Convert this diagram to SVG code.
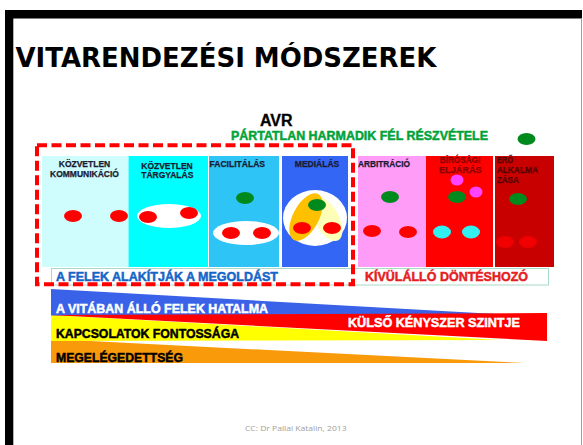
<svg xmlns="http://www.w3.org/2000/svg" width="583" height="445" viewBox="0 0 583 445">
<style>
.lbl{font-family:"Liberation Sans",Arial,sans-serif;font-weight:bold;font-size:8.5px;fill:#1a1a33;stroke:#1a1a33;stroke-width:0.25}
.big{font-family:"Liberation Sans",Arial,sans-serif;font-weight:bold;font-size:12px;stroke-width:0.45}
.red{fill:#ff0000}
.grn{fill:#008a1e}
.wht{fill:#ffffff}
</style>
<rect x="0" y="0" width="583" height="445" fill="#ffffff"/>
<g id="frame">
<rect x="5" y="10" width="577" height="8.5" fill="#000000"/>
<rect x="5" y="10" width="8.3" height="435" fill="#000000"/>
<line x1="581.5" y1="18" x2="581.5" y2="445" stroke="#a0a0a0" stroke-width="1"/>
</g>
<text id="title" x="15.5" y="67" font-family="'DejaVu Sans',Verdana,sans-serif" font-weight="bold" font-size="26" textLength="421" lengthAdjust="spacingAndGlyphs" fill="#000000">VITARENDEZÉSI MÓDSZEREK</text>
<text id="avr" x="260" y="126" font-family="'Liberation Sans',Arial,sans-serif" font-weight="bold" font-size="16" fill="#000000" stroke="#000000" stroke-width="0.3">AVR</text>
<text id="partatlan" x="231" y="140" class="big" font-size="11" textLength="257" lengthAdjust="spacingAndGlyphs" fill="#00a33a" stroke="#00a33a">PÁRTATLAN HARMADIK FÉL RÉSZVÉTELE</text>
<ellipse id="dot-top" cx="526.5" cy="139" rx="9" ry="6" class="grn"/>

<g id="col1">
<rect x="42" y="156" width="86" height="111" fill="#cffcfc"/>
<text class="lbl" x="84.5" y="166.7" text-anchor="middle">KÖZVETLEN</text>
<text class="lbl" x="84.5" y="176.7" text-anchor="middle">KOMMUNIKÁCIÓ</text>
<ellipse cx="73" cy="216" rx="9" ry="6" class="red"/>
<ellipse cx="119" cy="216" rx="9" ry="6" class="red"/>
</g>
<g id="col2">
<rect x="128.5" y="156" width="79.5" height="111" fill="#00ffff"/>
<text class="lbl" x="167" y="169" text-anchor="middle">KÖZVETLEN</text>
<text class="lbl" x="167.3" y="178.3" text-anchor="middle">TÁRGYALÁS</text>
<ellipse cx="169" cy="216" rx="32" ry="12" class="wht"/>
<ellipse cx="148" cy="217" rx="9" ry="6" class="red"/>
<ellipse cx="189" cy="213" rx="9" ry="6" class="red"/>
</g>
<g id="col3">
<rect x="209" y="156" width="70" height="111" fill="#2ec4f5"/>
<text class="lbl" x="209.5" y="167.3" textLength="55.5" lengthAdjust="spacingAndGlyphs">FACILITÁLÁS</text>
<ellipse cx="245" cy="198" rx="9" ry="6" class="grn"/>
<ellipse cx="246" cy="233" rx="33" ry="12" class="wht"/>
<ellipse cx="231" cy="233" rx="9" ry="6" class="red"/>
<ellipse cx="262" cy="233" rx="9" ry="6" class="red"/>
</g>
<g id="col4">
<rect x="282" y="156" width="66" height="111" fill="#3366f5"/>
<text class="lbl" x="317" y="167.3" text-anchor="middle">MEDIÁLÁS</text>
<ellipse cx="315" cy="218" rx="32" ry="28" class="wht"/>
<ellipse cx="327" cy="219" rx="12" ry="24" fill="#ffffb8" transform="rotate(-28 327 219)"/>
<ellipse cx="306" cy="217" rx="13" ry="26" fill="#ffc000" transform="rotate(28 306 217)"/>
<ellipse cx="317" cy="205" rx="9" ry="6" class="grn"/>
<ellipse cx="302" cy="228" rx="9" ry="6" class="red"/>
<ellipse cx="332" cy="228" rx="9" ry="6" class="red"/>
</g>
<g id="col5">
<rect x="358" y="156" width="68" height="111" fill="#ff9cf7"/>
<text class="lbl" x="358" y="167.3" textLength="52" lengthAdjust="spacingAndGlyphs">ARBITRÁCIÓ</text>
<ellipse cx="390" cy="197" rx="9" ry="6" class="grn"/>
<ellipse cx="372" cy="231" rx="9" ry="6" class="red"/>
<ellipse cx="408" cy="232" rx="9" ry="6" class="red"/>
</g>
<g id="col6">
<rect x="426" y="156" width="67" height="111" fill="#ff0000"/>
<text class="lbl" x="460" y="163.3" text-anchor="middle" style="fill:#8a0000;stroke:#8a0000" textLength="40.5" lengthAdjust="spacingAndGlyphs">BÍRÓSÁGI</text>
<text class="lbl" x="460.3" y="173.3" text-anchor="middle" style="fill:#8a0000;stroke:#8a0000" textLength="42.5" lengthAdjust="spacingAndGlyphs">ELJÁRÁS</text>
<ellipse cx="457" cy="180" rx="6.5" ry="5.5" fill="#ff44ff"/>
<ellipse cx="476" cy="192" rx="6.5" ry="5.5" fill="#ff44ff"/>
<ellipse cx="457" cy="197" rx="9" ry="6" class="grn"/>
<ellipse cx="442" cy="232" rx="9" ry="6.5" fill="#33f0f0"/>
<ellipse cx="471" cy="232" rx="9" ry="6.5" fill="#33f0f0"/>
</g>
<g id="col7">
<rect x="495" y="156" width="59" height="111" fill="#c80000"/>
<text class="lbl" x="496.7" y="163.3" style="fill:#550000;stroke:#550000" textLength="16.3" lengthAdjust="spacingAndGlyphs">ERŐ</text>
<text class="lbl" x="496.7" y="173.3" style="fill:#550000;stroke:#550000" textLength="41.3" lengthAdjust="spacingAndGlyphs">ALKALMA</text>
<text class="lbl" x="496.7" y="182.7" style="fill:#550000;stroke:#550000" textLength="22.3" lengthAdjust="spacingAndGlyphs">ZÁSA</text>
<ellipse cx="518" cy="199" rx="9" ry="6" class="grn"/>
<ellipse cx="505" cy="242" rx="9" ry="6" fill="#f00000"/>
<ellipse cx="528" cy="242" rx="9" ry="6" fill="#f00000"/>
</g>

<g id="labelbar">
<rect x="51.5" y="268.5" width="497" height="16.5" fill="#ffffff" stroke="#a8d8c8" stroke-width="1"/>
<text class="big" x="56" y="280.5" textLength="222" lengthAdjust="spacingAndGlyphs" fill="#1565c8" stroke="#1565c8">A FELEK ALAKÍTJÁK A MEGOLDÁST</text>
<text class="big" x="365" y="280.5" textLength="163" lengthAdjust="spacingAndGlyphs" fill="#e52020" stroke="#e52020">KÍVÜLÁLLÓ DÖNTÉSHOZÓ</text>
</g>

<g id="connectors">
<rect id="dashbox" x="37" y="145.3" width="316" height="139" fill="none" stroke="#ff0000" stroke-width="4" stroke-dasharray="10 4.5"/>
</g>

<g id="wedges">
<polygon points="51,339 525,363 51,363" fill="#f99a0a"/>
<polygon points="51,315 500,340 51,341" fill="#ffff00"/>
<polygon points="51,289 505,314.5 51,315.5" fill="#3a62e8"/>
<polygon points="51,315 547,313 547,341" fill="#ff0000"/>
<text class="big" x="56" y="312.7" textLength="212" lengthAdjust="spacingAndGlyphs" fill="#ffffff" stroke="#ffffff">A VITÁBAN ÁLLÓ FELEK HATALMA</text>
<text class="big" x="348" y="326.7" textLength="172" lengthAdjust="spacingAndGlyphs" fill="#ffffff" stroke="#ffffff">KÜLSŐ KÉNYSZER SZINTJE</text>
<text class="big" x="56" y="338.3" textLength="183" lengthAdjust="spacingAndGlyphs" fill="#000000" stroke="#000000">KAPCSOLATOK FONTOSSÁGA</text>
<text class="big" x="56" y="361.7" textLength="127" lengthAdjust="spacingAndGlyphs" fill="#000000" stroke="#000000">MEGELÉGEDETTSÉG</text>
</g>

<text id="footer" x="245" y="430.5" font-family="'Open Sans','Liberation Sans',sans-serif" font-size="8" textLength="101.5" lengthAdjust="spacingAndGlyphs" fill="#a0a0a0">CC: Dr Pallai Katalin, 2013</text>
</svg>
